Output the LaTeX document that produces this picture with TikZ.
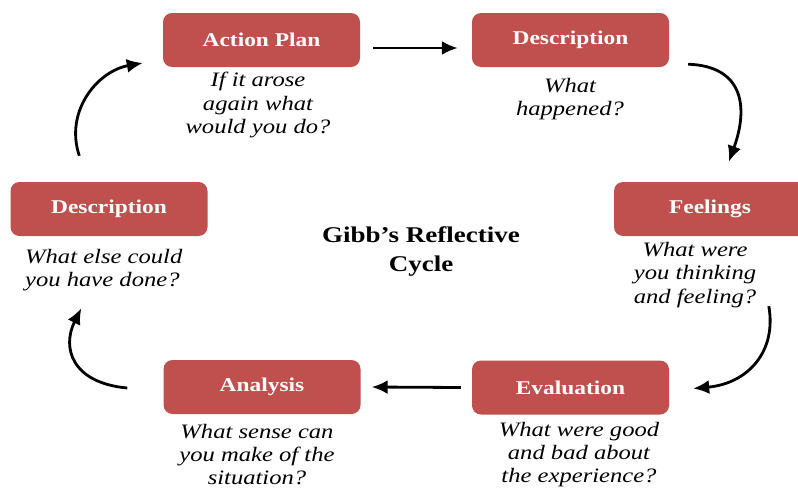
\documentclass[tikz,border=0pt]{standalone}
\usepackage{fontspec}
\setmainfont[FakeStretch=1.2]{Liberation Serif}
\usetikzlibrary{arrows.meta}
\definecolor{boxred}{HTML}{C0504D}
\tikzset{
  stage/.style={draw=none, fill=boxred, rounded corners=9pt, minimum width=197pt, minimum height=54pt,
    text=white, font=\fontsize{19.5}{22}\selectfont\bfseries, inner sep=0pt},
  prompt/.style={align=center, inner sep=0pt, font=\fontsize{20.5}{23.5}\selectfont\itshape},
  arr/.style={line width=2.8pt, -{Latex[length=16pt,width=14pt]}},
}
\begin{document}
\begin{tikzpicture}[x=1pt,y=-1pt]
\useasboundingbox (0,0) rectangle (798,490);
\clip (0,0) rectangle (798,490);
% stages
\node[stage] (AP) at (261.5,40) {Action Plan};
\node[stage] (D1) at (570.5,40) {Description};
\node[stage] (D2) at (109,209) {Description};
\node[stage, minimum width=196pt] (F) at (712,209) {};
\node[text=white, font=\fontsize{19.5}{22}\selectfont\bfseries, inner sep=0pt] (Ft) at (710,209) {Feelings};
\node[stage] (AN) at (262,387) {Analysis};
\node[stage] (EV) at (570.5,387.5) {Evaluation};
% prompts
\node[prompt] (pAP) at (258,105) {If it arose\\again what\\would you do?};
\node[prompt] (pD1) at (570,99) {What\\happened?};
\node[prompt, align=left, anchor=west] (pD2) at (25,270) {What else could\\you have done?};
\node[prompt] (pF) at (695,275) {What were\\you thinking\\and feeling?};
\node[prompt, font=\fontsize{20.5}{23}\selectfont\itshape] (pAN) at (257,455) {What sense can\\you make of the\\situation?};
\node[prompt, font=\fontsize{20.5}{23}\selectfont\itshape] (pEV) at (579,455) {What were good\\and bad about\\the experience?};
% title
\node[align=center, inner sep=0pt, font=\fontsize{22.5}{29}\selectfont\bfseries] (T) at (421,252) {Gibb’s Reflective\\Cycle};
% connectors
\draw[arr] ([shift={(13,8)}]AP.east) -- ([shift={(-14,8)}]D1.west);
\draw[arr] ([shift={(19,-3)}]D1.south east) .. controls +(55,2) and +(20,-55) .. ([shift={(115,-20)}]F.north west);
\draw[arr] ([shift={(155,70)}]F.south west) .. controls +(8,45) and +(55,-5) .. ([shift={(24,1)}]EV.east);
\draw[arr] ([shift={(-11,0)}]EV.west) -- ([shift={(11,0)}]AN.east);
\draw[arr] ([shift={(-36,1)}]AN.west) .. controls +(-55,-5) and +(-20,40) .. ([shift={(71,72)}]D2.south west);
\draw[arr] ([shift={(69,-26)}]D2.north west) .. controls +(-15,-45) and +(-45,8) .. ([shift={(-20,23)}]AP.west);
\end{tikzpicture}
\end{document}
